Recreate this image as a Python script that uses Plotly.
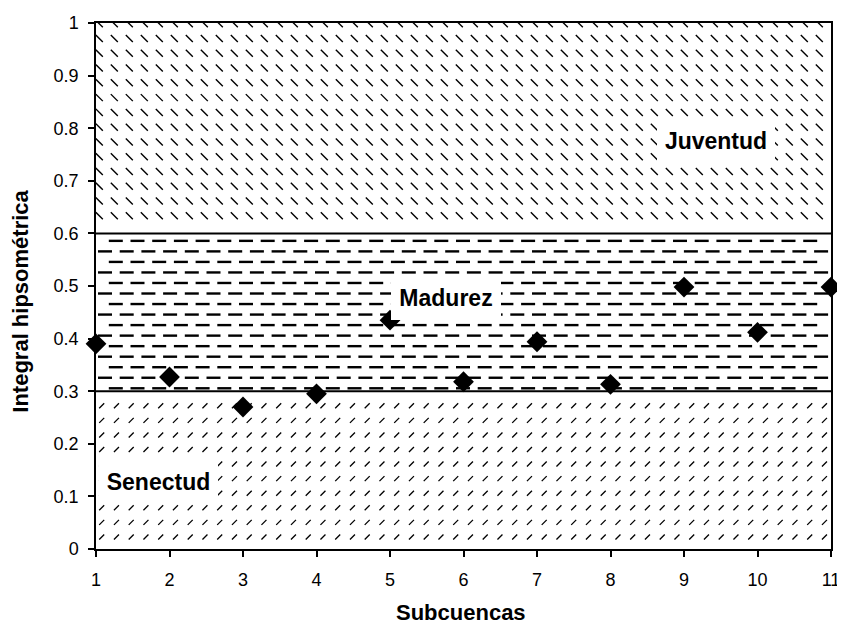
import numpy as np
import plotly.graph_objects as go

# ---------------- data ----------------
subcuencas = list(range(1, 12))
integral = [0.39, 0.327, 0.27, 0.295, 0.435, 0.318, 0.394, 0.313, 0.498, 0.412, 0.498]
zone_limits = [0.0, 0.3, 0.6, 1.0]
zone_names = ["Senectud", "Madurez", "Juventud"]
y_ticks = [0, 0.1, 0.2, 0.3, 0.4, 0.5, 0.6, 0.7, 0.8, 0.9, 1]
y_tick_labels = ["0", "0.1", "0.2", "0.3", "0.4", "0.5", "0.6", "0.7", "0.8", "0.9", "1"]
x_ticks = subcuencas
x_title = "Subcuencas"
y_title = "Integral hipsométrica"

# ---------------- layout geometry ----------------
PAGE = 8                      # default body margin of the html page
W, H = 845 - PAGE, 628 - PAGE
PLOT_L, PLOT_R, PLOT_T, PLOT_B = 96, 831, 13, 549   # plot area in window pixels
L, R, T, B = PLOT_L - PAGE, 845 - PLOT_R, PLOT_T - PAGE, 628 - PLOT_B
X0, X1 = subcuencas[0], subcuencas[-1]
Y0, Y1 = zone_limits[0], zone_limits[-1]
px_x = (PLOT_R - PLOT_L) / (X1 - X0)
px_y = (PLOT_B - PLOT_T) / (Y1 - Y0)
FONT = "Liberation Sans, Arial, sans-serif"

fig = go.Figure()


def texture(y_levels, x_offsets, x_step_px, symbol, size, width):
    xs, ys = [], []
    for yl, xo in zip(y_levels, x_offsets):
        xv = X0 + (xo + x_step_px * np.arange(0, 200)) / px_x
        xv = xv[xv <= X1 + 0.02]
        xs.extend(xv.tolist())
        ys.extend([yl] * len(xv))
    fig.add_trace(go.Scatter(
        x=xs, y=ys, mode="markers", hoverinfo="skip", showlegend=False,
        marker=dict(symbol=symbol, size=size, color="black",
                    line=dict(color="black", width=width)),
    ))


# Juventud texture: "\" marks
juv_rows = [zone_limits[3] - (0.8 + 15.05 * j) / px_y for j in range(40)]
juv_rows = [v for v in juv_rows if v > zone_limits[2] + 4 / px_y]
texture(juv_rows, [3.3] * len(juv_rows), 15.0, "line-nw", 7, 1.4)

# Madurez texture: horizontal dashes, staggered rows
mad_rows = [zone_limits[2] - (7.6 + 10.73 * k) / px_y for k in range(15)]
mad_offsets = [19.8 if k % 2 == 0 else 9.0 for k in range(15)]
texture(mad_rows, mad_offsets, 21.7, "line-ew", 10, 2.4)

# Senectud texture: "/" marks
sen_rows = [zone_limits[0] + (12.3 + 14.85 * k) / px_y for k in range(10)]
texture(sen_rows, [5.7] * len(sen_rows), 14.75, "line-ne", 5, 1.3)

# data points
fig.add_trace(go.Scatter(
    x=subcuencas, y=integral, mode="markers", showlegend=False, cliponaxis=False,
    marker=dict(symbol="diamond", size=16, color="black"),
))

# zone boundary lines
for lim in zone_limits[1:-1]:
    fig.add_shape(type="line", xref="paper", yref="y", x0=0, x1=1, y0=lim, y1=lim,
                  line=dict(color="black", width=2), layer="above")

# zone labels (centre in window pixels, box size)
label_pos = {
    "Senectud": (158, 481, 119, 44),
    "Madurez": (446, 293, 110, 44),
    "Juventud": (716, 133, 118, 40),
}
for name in zone_names:
    cx, cy, w, h = label_pos[name]
    fig.add_annotation(x=X0 + (cx - PLOT_L) / px_x, y=(PLOT_B - cy) / px_y,
                       xref="x", yref="y", text="<b>%s</b>" % name,
                       showarrow=False, bgcolor="white", borderpad=0, borderwidth=0,
                       width=w, height=h,
                       font=dict(family=FONT, size=23, color="black"))

# axis titles
fig.add_annotation(x=(461 - PLOT_L) / (PLOT_R - PLOT_L),
                   y=-(614 - PLOT_B) / (PLOT_B - PLOT_T),
                   xref="paper", yref="paper", text="<b>%s</b>" % x_title,
                   showarrow=False, xanchor="center", yanchor="middle",
                   borderpad=0, borderwidth=0,
                   font=dict(family=FONT, size=22, color="black"))
fig.add_annotation(x=(21 - PLOT_L) / (PLOT_R - PLOT_L),
                   y=(PLOT_B - 297) / (PLOT_B - PLOT_T),
                   xref="paper", yref="paper", text="<b>%s</b>" % y_title,
                   textangle=-90, showarrow=False, xanchor="center", yanchor="middle",
                   borderpad=0, borderwidth=0,
                   font=dict(family=FONT, size=22, color="black"))

axis_common = dict(showgrid=False, zeroline=False, showline=True, linecolor="black",
                   linewidth=1.5, mirror=True, ticks="outside", ticklen=6,
                   tickwidth=1.5, tickcolor="black", ticklabeloverflow="allow",
                   tickfont=dict(family=FONT, size=18, color="black"))

fig.update_xaxes(range=[X0, X1], tickmode="array", tickvals=x_ticks,
                 ticktext=[str(v) for v in x_ticks], ticklabelstandoff=8,
                 **axis_common)
fig.update_yaxes(range=[Y0, Y1], tickmode="array", tickvals=y_ticks,
                 ticktext=y_tick_labels, ticklabelstandoff=6, **axis_common)

fig.update_layout(width=W, height=H, autosize=False,
                  margin=dict(l=L, r=R, t=T, b=B),
                  plot_bgcolor="white", paper_bgcolor="white",
                  font=dict(family=FONT, color="black"))

fig.write_html("out.html")
